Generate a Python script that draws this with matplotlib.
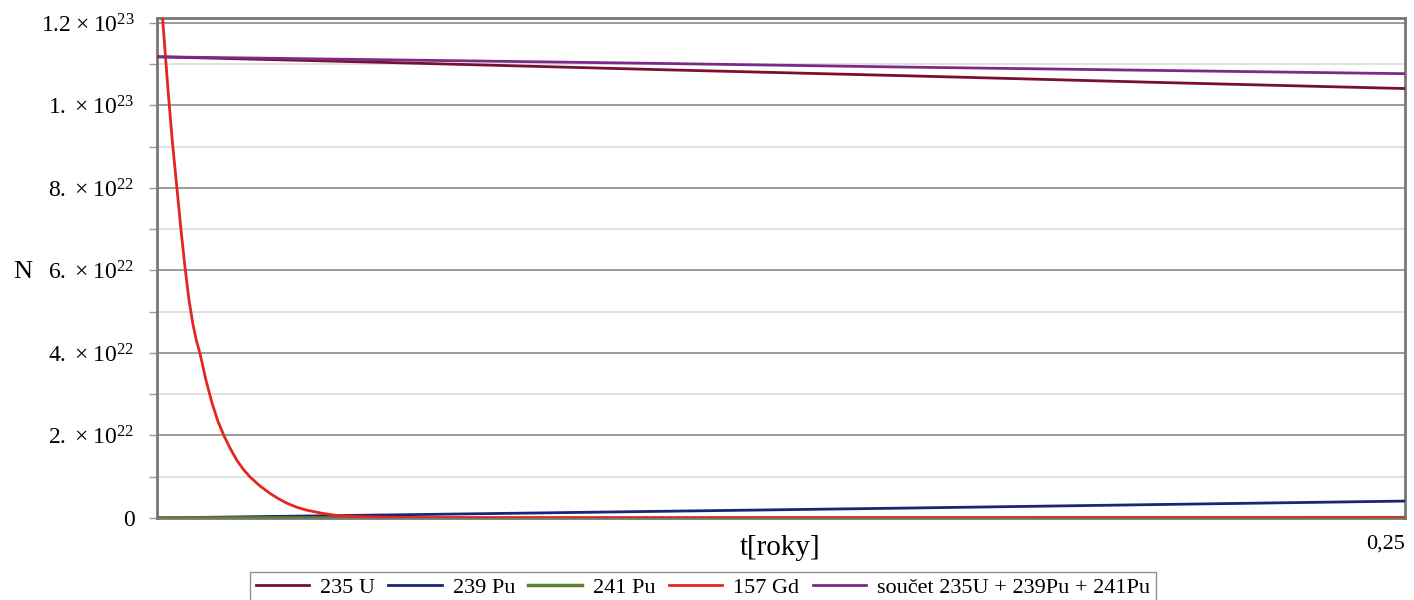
import matplotlib.pyplot as plt
from matplotlib.ticker import MultipleLocator

plt.rcParams['font.family'] = ['Liberation Serif', 'DejaVu Serif']
plt.rcParams['mathtext.fontset'] = 'custom'
plt.rcParams['mathtext.rm'] = 'Liberation Serif'

# time in years
t_main = [0.0, 0.05, 0.10, 0.15, 0.20, 0.25]
u235 = [1.118e23, 1.103e23, 1.087e23, 1.072e23, 1.056e23, 1.041e23]
pu239 = [0.0, 0.8e21, 1.6e21, 2.4e21, 3.25e21, 4.1e21]
pu241 = [0.0, 0.5e19, 1.5e19, 3e19, 5e19, 8e19]
soucet = [1.118e23, 1.110e23, 1.102e23, 1.093e23, 1.085e23, 1.077e23]

# gadolinium burns out quickly
t_gd = [0.0, 0.0012, 0.0022, 0.0031, 0.0040, 0.0048, 0.0056, 0.0064, 0.0072,
        0.0079, 0.0086, 0.0098, 0.0110, 0.0122, 0.0134, 0.0147, 0.0160,
        0.0173, 0.0186, 0.0206, 0.0226, 0.0243, 0.0260, 0.0280, 0.0300,
        0.0330, 0.0361, 0.0395, 0.0430, 0.0500, 0.0600, 0.0700, 0.1000,
        0.1500, 0.2000, 0.2500]
gd157 = [1.43e23, 1.20e23, 1.04e23, 9.1e22, 8.0e22, 7.0e22, 6.1e22, 5.3e22,
         4.7e22, 4.3e22, 4.0e22, 3.35e22, 2.8e22, 2.35e22, 2.0e22, 1.68e22,
         1.4e22, 1.18e22, 1.0e22, 7.8e21, 6.0e21, 4.7e21, 3.6e21, 2.6e21,
         1.9e21, 1.15e21, 0.6e21, 0.38e21, 0.25e21, 0.1e21, 0.05e21,
         0.02e21, 0.0, 0.0, 0.0, 0.0]

y_ticks = [0, 2e22, 4e22, 6e22, 8e22, 1e23, 1.2e23]
y_labels = ['0',
            r'$\mathregular{2.\times10^{22}}$',
            r'$\mathregular{4.\times10^{22}}$',
            r'$\mathregular{6.\times10^{22}}$',
            r'$\mathregular{8.\times10^{22}}$',
            r'$\mathregular{1.\times10^{23}}$',
            r'$\mathregular{1.2\times10^{23}}$']

fig = plt.figure(figsize=(14.14, 6), dpi=100)
ax = fig.add_axes([0.111, 0.1367, 0.8826, 0.8333])

ax.plot(t_main, u235, color='#7a1030', lw=2, label='235 U', zorder=3)
ax.plot(t_main, pu239, color='#1c2475', lw=2, label='239 Pu', zorder=3)
ax.plot(t_main, pu241, color='#5f7f2a', lw=2.5, label='241 Pu', zorder=3)
ax.plot(t_gd, gd157, color='#e3261f', lw=2, label='157 Gd', zorder=3)
ax.plot(t_main, soucet, color='#7b2a88', lw=2,
        label='součet 235U + 239Pu + 241Pu', zorder=3)

ax.set_xlim(0, 0.25)
ax.set_ylim(0, 1.212e23)

ax.set_yticks(y_ticks, y_labels)
ax.yaxis.set_minor_locator(MultipleLocator(1e22))
ax.grid(which='major', axis='y', color='#8a8a8a', lw=1.2)
ax.grid(which='minor', axis='y', color='#dcdcdc', lw=1.2)
ax.tick_params(axis='y', which='both', direction='out', color='#999999',
               length=6, width=1, labelsize=17, pad=10)

ax.set_xticks([0.25], ['0,25'])
ax.tick_params(axis='x', length=0, labelsize=16, pad=12)
for lab in ax.get_xticklabels():
    lab.set_horizontalalignment('right')

for s in ax.spines.values():
    s.set_color('#777777')
    s.set_linewidth(2)
    s.set_zorder(2)

fig.text(0.552, 0.087, 't[roky]', fontsize=21, va='center', ha='center')
fig.text(0.016, 0.547, 'N', fontsize=19, va='center', ha='center')

fig.legend(loc='upper center', bbox_to_anchor=(0.497, 0.047), ncol=5,
           fontsize=16, frameon=True, fancybox=False, edgecolor='#777777',
           handlelength=2.4, handletextpad=0.5, columnspacing=0.6,
           borderpad=0.25, borderaxespad=0)

fig.savefig('out.png', dpi=100)
